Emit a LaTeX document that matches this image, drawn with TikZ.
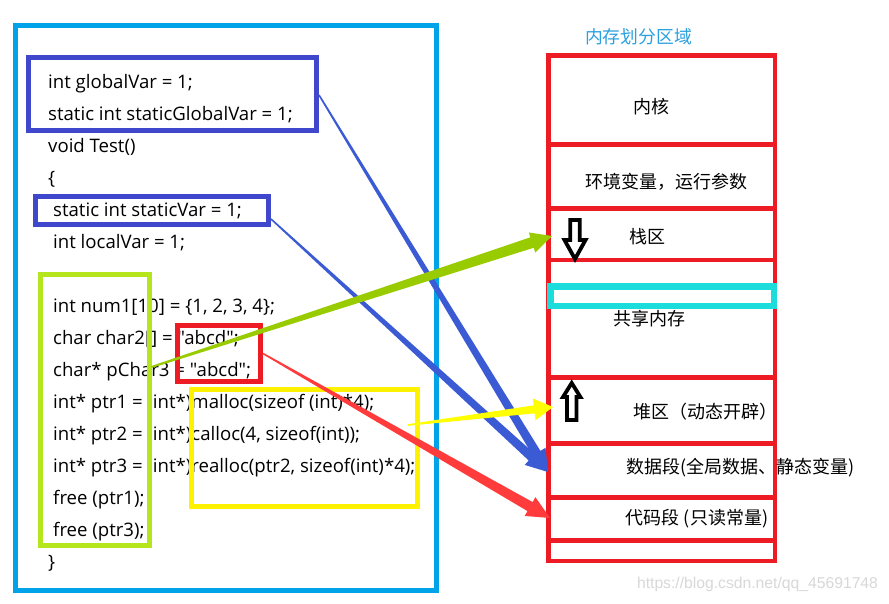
\documentclass[tikz,border=0pt]{standalone}
\usepackage{fontspec}
\setmainfont{Open Sans}
\newfontfamily\codefont{Open Sans}
\newfontfamily\cjk{Noto Sans CJK SC}
\newfontfamily\wmfont{Liberation Sans}
\usetikzlibrary{calc}
\definecolor{frameblue}{HTML}{00A2E8}
\definecolor{boxindigo}{HTML}{3F48CC}
\definecolor{boxlime}{HTML}{B5E61D}
\definecolor{boxred}{HTML}{ED1C24}
\definecolor{boxyellow}{HTML}{FFF200}
\definecolor{memred}{HTML}{ED1C24}
\definecolor{memcyan}{HTML}{1CDCDC}
\definecolor{titleblue}{HTML}{2AA0E0}
\definecolor{arrblue}{HTML}{3B5BD5}
\definecolor{arrgreen}{HTML}{99CC00}
\definecolor{arryellow}{HTML}{FFFF00}
\definecolor{arrred}{HTML}{FF3B3B}
\definecolor{wmgray}{HTML}{D8D8D8}
% tapered arrow: #1 start, #2 tip, #3 start half-width, #4 shaft half-width at head,
% #5 head length, #6 head half-width, #7 colour
\newcommand\taperarrow[7]{%
  \coordinate (tB) at ($(#2)!#5!(#1)$);
  \fill[#7] ($(#1)!#3!90:(#2)$) -- ($(tB)!#4!90:(#2)$) -- ($(tB)!#6!90:(#2)$)
    -- (#2) -- ($(tB)!#6!-90:(#2)$) -- ($(tB)!#4!-90:(#2)$) -- ($(#1)!#3!-90:(#2)$) -- cycle;
}
\begin{document}
\begin{tikzpicture}[x=1pt,y=-1pt,
  code/.style={anchor=base west, inner sep=0pt, font=\codefont\fontsize{18.6}{22}\selectfont},
  memtext/.style={inner sep=0pt, font=\cjk\fontsize{18}{22}\selectfont},
  codebox/.style={draw=#1, line width=5pt, inner sep=0pt},
  hollow/.style={draw=black, fill=white, line width=3.8pt, line join=miter}]
\useasboundingbox (0,0) rectangle (889,603);
\fill[white] (0,0) rectangle (889,603);

% code text
\node[code] (l1) at (48,88.3) {int globalVar = 1;};
\node[code] (l2) at (48,120.3) {static int staticGlobalVar = 1;};
\node[code] (l3) at (48,152.3) {void Test()};
\node[code] (l4) at (48,184.3) {\{};
\node[code] (l5) at (53,216.3) {static int staticVar = 1;};
\node[code] (l6) at (53,248.3) {int localVar = 1;};
\node[code] (l7) at (53,312.3) {int num1[10] = \{1, 2, 3, 4\};};
\node[code] (l8) at (53,344.3) {char char2[] = "abcd";};
\node[code] (l9) at (53,376.3) {char* pChar3 = "abcd";};
\node[code] (l10) at (53,408.3) {int* ptr1 = (int*)malloc(sizeof (int)*4);};
\node[code] (l11) at (53,440.3) {int* ptr2 = (int*)calloc(4, sizeof(int));};
\node[code] (l12) at (53,472.3) {int* ptr3 = (int*)realloc(ptr2, sizeof(int)*4);};
\node[code] (l13) at (53,504.3) {free (ptr1);};
\node[code] (l14) at (53,536.3) {free (ptr3);};
\node[code] (l15) at (48,568.3) {\}};

% frames
\node[codebox=frameblue, minimum width=420.2pt, minimum height=565.8pt] (frame) at (225.9,307.9) {};
\node[codebox=boxindigo, minimum width=288pt, minimum height=73.5pt] (gbox) at (172.5,93.75) {};
\node[codebox=boxindigo, minimum width=233pt, minimum height=28pt] (sbox) at (152,210.5) {};
\node[codebox=boxlime, minimum width=109pt, minimum height=271pt] (lbox) at (95,410) {};
\node[codebox=boxred, minimum width=83pt, minimum height=56pt] (rbox) at (219,353.5) {};
\node[codebox=boxyellow, minimum width=226pt, minimum height=117pt] (ybox) at (304.5,448) {};

% memory column
\node[inner sep=0pt, text=titleblue, font=\cjk\fontsize{17.8}{22}\selectfont] (title) at (638.5,36.5) {内存划分区域};
\draw[memred, line width=4.5pt] (548.5,55.5) rectangle (775,561);
\foreach \yy in {144.5,208.5,260,377.5,443.5,497.5,540.5}
  \draw[memred, line width=4.5pt] (548.5,\yy) -- (775,\yy);
\draw[memcyan, line width=6.5pt] (550.3,286.5) rectangle (774,306);

\node[memtext] (m1) at (651,106.5) {内核};
\node[memtext] (m2) at (666,182) {环境变量，运行参数};
\node[memtext] (m3) at (647.5,237) {栈区};
\node[memtext] (m4) at (649,318.5) {共享内存};
\node[memtext] (m5) at (705,412) {堆区（动态开辟）};
\node[memtext] (m6) at (740.5,467.5) {数据段(全局数据、静态变量)};
\node[memtext] (m7) at (697,519) {代码段 (只读常量)};

% hollow arrows
\draw[hollow] (570.3,220) -- (579.7,220) -- (579.7,240) -- (585.5,240) -- (575,259)
  -- (564.5,240) -- (570.3,240) -- cycle;
\draw[hollow] (567,420) -- (576.4,420) -- (576.4,397) -- (580.4,397) -- (571.7,383)
  -- (563,397) -- (567,397) -- cycle;

% connectors
\coordinate (sB1) at (319,95);
\coordinate (sB2) at (271,219);
\coordinate (tData) at (548,472);
\coordinate (sG) at (151.5,367);
\coordinate (tStack) at (552,236);
\coordinate (sY) at (408,425);
\coordinate (tHeap) at (553,407);
\coordinate (tCode) at (550,518);
\taperarrow{sB1}{tData}{0.8pt}{4.5pt}{22pt}{10.5pt}{arrblue}
\taperarrow{sB2}{tData}{0.8pt}{4.5pt}{22pt}{10.5pt}{arrblue}
\taperarrow{sG}{tStack}{1pt}{5.5pt}{21pt}{10.6pt}{arrgreen}
\taperarrow{sY}{tHeap}{0.8pt}{4pt}{19pt}{11pt}{arryellow}
\taperarrow{rbox.east}{tCode}{0.8pt}{5.2pt}{23pt}{10.8pt}{arrred}

% watermark
\node[inner sep=0pt, text=wmgray, font=\wmfont\fontsize{15.7}{18}\selectfont] (wm) at (757.5,584.5) {https://blog.csdn.net/qq\_45691748};
\end{tikzpicture}
\end{document}
